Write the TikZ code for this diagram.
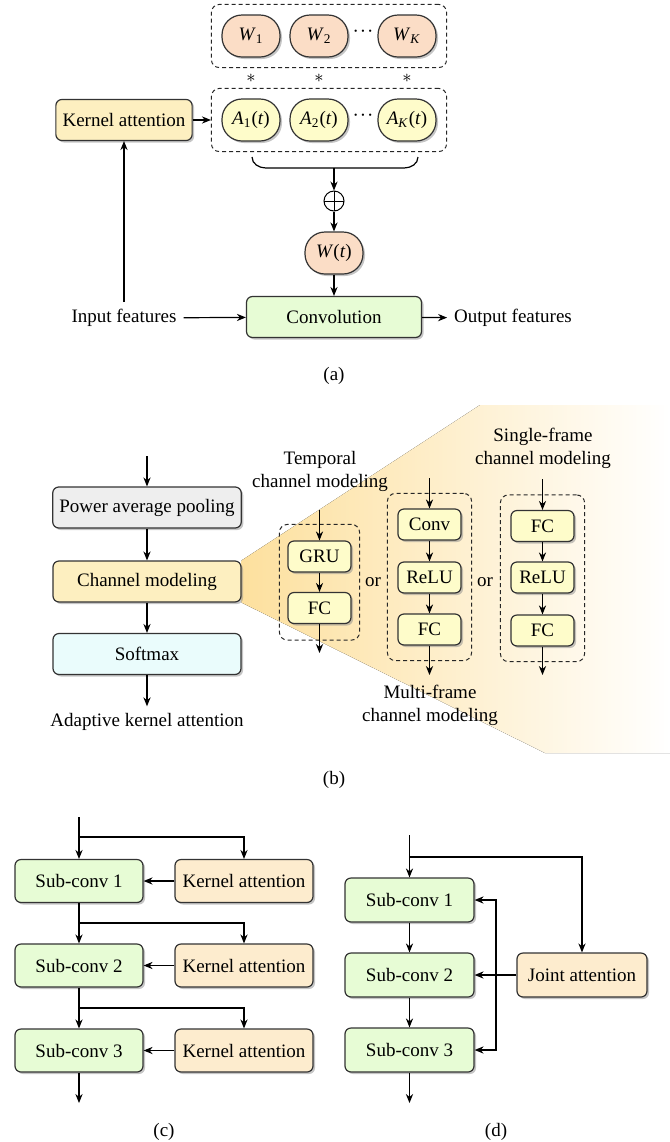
\documentclass[tikz,border=0pt]{standalone}
\usepackage{fontspec}
\setmainfont{Liberation Serif}
\usepackage{tikz}
\usetikzlibrary{positioning,shadows,fit,backgrounds,arrows.meta}

\definecolor{peach}{RGB}{251,221,198}
\definecolor{ayellow}{RGB}{254,252,202}
\definecolor{kyellow}{RGB}{253,239,192}
\definecolor{korange}{RGB}{253,236,206}
\definecolor{cgreen}{RGB}{231,252,213}
\definecolor{pgray}{RGB}{238,238,238}
\definecolor{scyan}{RGB}{234,252,252}
\definecolor{fanor}{RGB}{253,224,158}

% italic letter with subscript
\newcommand{\iv}[2]{\textit{#1}\textsubscript{#2}}
\newcommand{\cdts}{\textperiodcentered\kern0.5pt\textperiodcentered\kern0.5pt\textperiodcentered}

\begin{document}
\begin{tikzpicture}[x=0.5pt,y=-0.5pt,font=\fontsize{9.5}{11.5}\selectfont,
    shade/.style={drop shadow={shadow xshift=1pt,shadow yshift=-1pt,fill=black!45}},
    box/.style={draw=black!80,line width=0.6pt,rounded corners=3pt,minimum height=20.5pt,shade},
    pill/.style={draw=black!80,line width=0.6pt,rounded corners=10pt,minimum width=29pt,minimum height=21pt,inner sep=1pt,shade},
    sbox/.style={box,fill=ayellow,minimum width=31.5pt,minimum height=15.5pt,inner sep=1pt},
    group/.style={draw=black!85,line width=0.5pt,dash pattern=on 2pt off 1.5pt,rounded corners=4pt},
    arr/.style={-{Stealth[length=4.5pt,width=3.6pt]},line width=0.6pt}]
  \useasboundingbox (0,0) rectangle (670,1142);

  % ---------- (a)
  \foreach \n/\x/\s in {1/251/1,2/319/2,k/407/\textit{K}}{
    \node[pill,fill=peach] (w\n) at (\x,36) {\iv{W}{\s}};
    \node (ast\n) at (\x,78) {$\ast$};
    \node[pill,fill=ayellow] (a\n) at (\x,120) {\iv{A}{\s}(\textit{t})};
  }
  \node (wdots) at (363,34) {\cdts};
  \node (adots) at (363,118) {\cdts};
  \node[group,fit=(w1)(wk),inner sep=5pt] (wgrp) {};
  \node[group,fit=(a1)(ak),inner sep=5pt] (agrp) {};
  \node[box,fill=kyellow,minimum width=63pt] (katt) at (124,120) {Kernel attention};
  \draw[arr] (katt) -- (agrp);
  \coordinate (brc) at (334,168);
  \draw[line width=0.6pt] (252,157) to[out=-90,in=180] (266,168) -- (404,168) to[out=0,in=-90] (418,157);
  \node[circle,draw,line width=0.5pt,minimum size=10pt,inner sep=0pt,
    path picture={\draw[line width=0.5pt] (path picture bounding box.north) -- (path picture bounding box.south)
      (path picture bounding box.west) -- (path picture bounding box.east);}] (sum) at (334,201) {};
  \node[pill,fill=peach] (wt) at (334,253) {\textit{W}(\textit{t})};
  \node[box,fill=cgreen,minimum width=87.5pt] (conv) at (334,317) {Convolution};
  \node (infeat) at (124,318) {Input features};
  \node (outfeat) at (513,318) {Output features};
  \draw[arr] (brc) -- (sum);
  \draw[arr] (sum) -- (wt);
  \draw[arr] (wt) -- (conv);
  \draw[arr] (infeat) -- (conv);
  \draw[arr] (infeat) -- (katt);
  \draw[arr] (conv) -- (outfeat);
  \node (capa) at (334,376) {(a)};

  % ---------- (b)
  \coordinate (bin) at (147,456);
  \node[box,fill=pgray,minimum width=94pt] (pool) at (147,507.5) {Power average pooling};
  \node[box,fill=kyellow,minimum width=94pt] (chm) at (147,581.5) {Channel modeling};
  \node[box,fill=scyan,minimum width=94pt] (smax) at (147,654) {Softmax};
  \node (akatt) at (147,722) {Adaptive kernel attention};
  \draw[arr] (bin) -- (pool);
  \draw[arr] (pool) -- (chm);
  \draw[arr] (chm) -- (smax);
  \draw[arr] (smax) -- (akatt);

  % temporal
  \node[sbox] (gru) at (319.5,556.5) {GRU};
  \node[sbox] (tfc) at (319.5,608) {FC};
  \node[group,fit=(gru)(tfc),inner xsep=4pt,inner ysep=8pt] (tgrp) {};
  \coordinate (tin) at (319.5,510);
  \coordinate (tout) at (319.5,653);
  \draw[arr] (tin) -- (gru);
  \draw[arr] (gru) -- (tfc);
  \draw[arr] (tfc) -- (tout);
  \node[align=center] (tlab) at (320,471) {Temporal\\channel modeling};
  \node (or1) at (373,582) {or};

  % multi-frame
  \node[sbox] (mconv) at (429.5,524.5) {Conv};
  \node[sbox] (mrelu) at (429.5,577.5) {ReLU};
  \node[sbox] (mfc) at (429.5,629.5) {FC};
  \node[group,fit=(mconv)(mfc),inner xsep=5pt,inner ysep=7.5pt] (mgrp) {};
  \coordinate (min) at (429.5,478);
  \coordinate (mout) at (429.5,675);
  \draw[arr] (min) -- (mconv);
  \draw[arr] (mconv) -- (mrelu);
  \draw[arr] (mrelu) -- (mfc);
  \draw[arr] (mfc) -- (mout);
  \node[align=center] (mlab) at (430,705) {Multi-frame\\channel modeling};
  \node (or2) at (485,582) {or};

  % single-frame
  \node[sbox] (sfc) at (542.5,526) {FC};
  \node[sbox] (srelu) at (542.5,577.5) {ReLU};
  \node[sbox] (sfcb) at (542.5,630.5) {FC};
  \node[group,fit=(sfc)(sfcb),inner xsep=5pt,inner ysep=7.5pt] (sgrp) {};
  \coordinate (sin) at (542.5,479);
  \coordinate (sout) at (542.5,675);
  \draw[arr] (sin) -- (sfc);
  \draw[arr] (sfc) -- (srelu);
  \draw[arr] (srelu) -- (sfcb);
  \draw[arr] (sfcb) -- (sout);
  \node[align=center] (slab) at (543,448) {Single-frame\\channel modeling};

  \begin{scope}[on background layer]
    \fill[left color=fanor,middle color=fanor!22,right color=white] (chm.north east) -- (480,405) -- (670,405)
      -- (670,753) -- (545,753) -- (chm.south east) -- cycle;
  \end{scope}
  \node (capb) at (334,780) {(b)};

  % ---------- (c)
  \foreach \i/\y in {1/881,2/965.5,3/1050.5}{
    \node[box,fill=cgreen,minimum width=64pt,minimum height=21.5pt] (sc\i) at (79,\y) {Sub-conv \i};
    \node[box,fill=korange,minimum width=69pt,minimum height=21.5pt] (ka\i) at (244,\y) {Kernel attention};
    \draw[arr] (ka\i) -- (sc\i);
  }
  \coordinate (cin) at (79,817);
  \coordinate (cb1) at (79,837);
  \coordinate (cb2) at (79,923);
  \coordinate (cb3) at (79,1008);
  \coordinate (cout) at (79,1103);
  \draw[arr] (cin) -- (sc1);
  \draw[arr] (cb1) -| (ka1);
  \draw[arr] (sc1) -- (sc2);
  \draw[arr] (cb2) -| (ka2);
  \draw[arr] (sc2) -- (sc3);
  \draw[arr] (cb3) -| (ka3);
  \draw[arr] (sc3) -- (cout);
  \node (capc) at (164,1132) {(c)};

  % ---------- (d)
  \foreach \i/\y in {1/900,2/975,3/1050}{
    \node[box,fill=cgreen,minimum width=64.5pt,minimum height=22pt] (dsc\i) at (409.5,\y) {Sub-conv \i};
  }
  \node[box,fill=korange,minimum width=65pt,minimum height=22pt] (jatt) at (582,975) {Joint attention};
  \coordinate (din) at (409.5,835);
  \coordinate (db) at (409.5,857);
  \coordinate (dout) at (409.5,1103);
  \coordinate (fb) at (496,975);
  \draw[arr] (din) -- (dsc1);
  \draw[arr] (db) -| (jatt);
  \draw[arr] (dsc1) -- (dsc2);
  \draw[arr] (dsc2) -- (dsc3);
  \draw[arr] (dsc3) -- (dout);
  \draw[arr] (jatt) -- (dsc2);
  \draw[arr] (fb) |- (dsc1);
  \draw[arr] (fb) |- (dsc3);
  \node (capd) at (496,1132) {(d)};
\end{tikzpicture}
\end{document}
